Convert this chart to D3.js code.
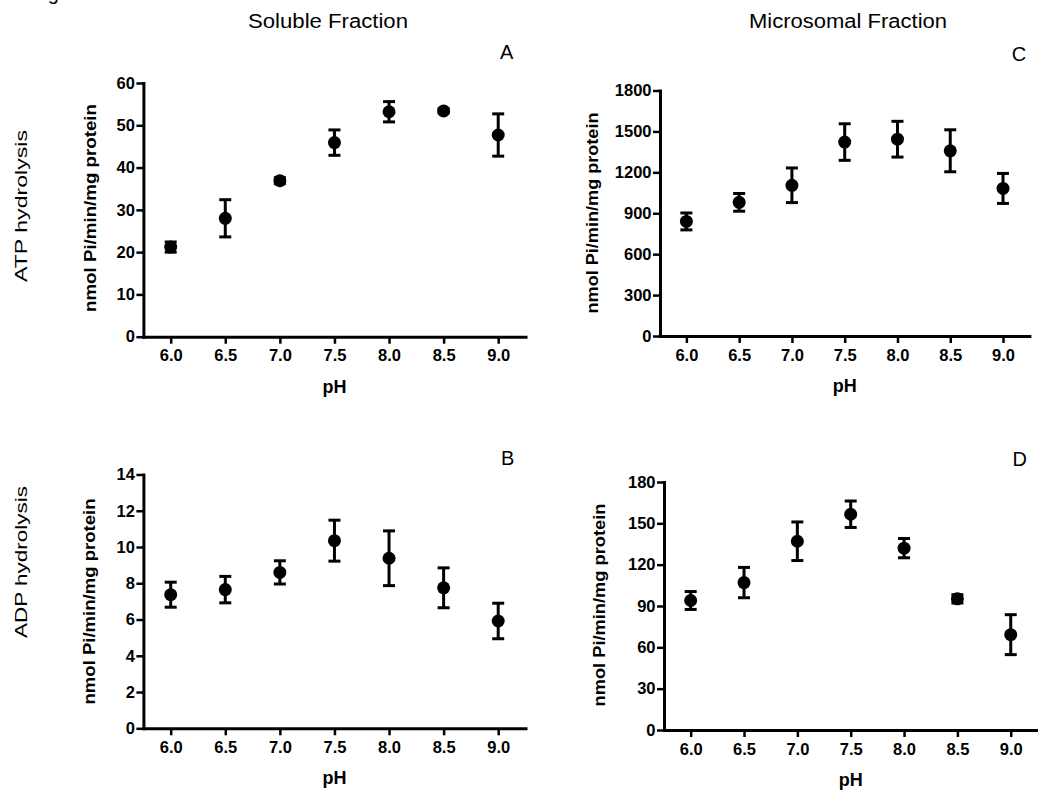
<!DOCTYPE html>
<html>
<head>
<meta charset="utf-8">
<script src="https://cdn.jsdelivr.net/npm/d3@7"></script>
<style>
  body { margin: 0; background: #fff; }
  svg { display: block; font-family: Arial, "Liberation Sans", sans-serif; }
</style>
</head>
<body>
<script>
// pH values shared by all four panels
var phValues = [6.0, 6.5, 7.0, 7.5, 8.0, 8.5, 9.0];

// A: soluble fraction, ATP hydrolysis
var solubleAtp = [21.2, 28.0, 36.9, 45.9, 53.2, 53.4, 47.7];
var solubleAtpErr = [1.2, 4.4, 0.7, 3.0, 2.4, 0.5, 5.0];
// B: soluble fraction, ADP hydrolysis
var solubleAdp = [7.37, 7.65, 8.6, 10.35, 9.38, 7.75, 5.92];
var solubleAdpErr = [0.69, 0.73, 0.64, 1.13, 1.51, 1.1, 0.98];
// C: microsomal fraction, ATP hydrolysis
var microsomalAtp = [840, 980, 1105, 1422, 1443, 1358, 1082];
var microsomalAtpErr = [62, 65, 127, 134, 131, 154, 110];
// D: microsomal fraction, ADP hydrolysis
var microsomalAdp = [94, 107, 137, 156.6, 132, 95.2, 69.2];
var microsomalAdpErr = [6.5, 11, 14, 9.6, 7, 3, 14.5];

var yTicksA = [0, 10, 20, 30, 40, 50, 60];
var yTicksB = [0, 2, 4, 6, 8, 10, 12, 14];
var yTicksC = [0, 300, 600, 900, 1200, 1500, 1800];
var yTicksD = [0, 30, 60, 90, 120, 150, 180];

var yLabel = "nmol Pi/min/mg protein";
var xLabel = "pH";

var width = 1038, height = 798;
var svg = d3.select("body").append("svg")
    .attr("width", width)
    .attr("height", height);

// cut-off figure caption at the very top (only the descender shows, as in the original)
svg.append("text")
    .attr("x", 31).attr("y", 0)
    .style("font-size", "20px")
    .text("Fig");

// column titles
svg.append("text")
    .attr("x", 248).attr("y", 27.5)
    .attr("textLength", 160).attr("lengthAdjust", "spacingAndGlyphs")
    .style("font-size", "20px")
    .text("Soluble Fraction");
svg.append("text")
    .attr("x", 749).attr("y", 27.5)
    .attr("textLength", 198).attr("lengthAdjust", "spacingAndGlyphs")
    .style("font-size", "20px")
    .text("Microsomal Fraction");

// row titles
[["ATP hydrolysis", 206], ["ADP hydrolysis", 562]].forEach(function(r) {
    svg.append("text")
        .attr("transform", "translate(27," + r[1] + ") rotate(-90)")
        .attr("text-anchor", "middle")
        .attr("textLength", 152).attr("lengthAdjust", "spacingAndGlyphs")
        .style("font-size", "17px")
        .text(r[0]);
});

var panels = [
    {letter: "A", values: solubleAtp, errs: solubleAtpErr, ticks: yTicksA,
     left: 143.4, right: 525.5, top: 83, bottom: 336.7,
     labelX: 96, labelY: 208, labelLen: 208, letterX: 506.7, letterY: 59.3},
    {letter: "B", values: solubleAdp, errs: solubleAdpErr, ticks: yTicksB,
     left: 143.4, right: 525.5, top: 474.5, bottom: 728.3,
     labelX: 95, labelY: 601.5, labelLen: 206, letterX: 507.7, letterY: 465},
    {letter: "C", values: microsomalAtp, errs: microsomalAtpErr, ticks: yTicksC,
     left: 660, right: 1029.4, top: 90.5, bottom: 336,
     labelX: 597.5, labelY: 213, labelLen: 201, letterX: 1019, letterY: 61},
    {letter: "D", values: microsomalAdp, errs: microsomalAdpErr, ticks: yTicksD,
     left: 664, right: 1037.4, top: 482, bottom: 730,
     labelX: 605, labelY: 605, labelLen: 203, letterX: 1019.7, letterY: 466}
];

panels.forEach(function(p) {
    var x = d3.scaleLinear().domain([5.75, 9.25]).range([p.left, p.right]);
    var y = d3.scaleLinear().domain([0, d3.max(p.ticks)]).range([p.bottom, p.top]);
    var g = svg.append("g");

    var yAxis = g.append("g")
        .attr("transform", "translate(" + p.left + ",0)")
        .call(d3.axisLeft(y).tickValues(p.ticks).tickSize(7).tickSizeOuter(0)
            .tickPadding(1.5).tickFormat(d3.format("d")));
    var xAxis = g.append("g")
        .attr("transform", "translate(0," + p.bottom + ")")
        .call(d3.axisBottom(x).tickValues(phValues).tickSize(7).tickSizeOuter(0)
            .tickPadding(6).tickFormat(d3.format(".1f")));

    [yAxis, xAxis].forEach(function(a) {
        a.select(".domain").attr("stroke", "#000").attr("stroke-width", 3)
            .attr("stroke-linecap", "square");
        a.selectAll(".tick line").attr("stroke", "#000").attr("stroke-width", 2.5);
        a.selectAll(".tick text")
            .attr("fill", "#000")
            .style("font-size", "16.5px")
            .style("font-weight", "bold")
            .style("font-family", "Arial, 'Liberation Sans', sans-serif");
    });

    // axis titles
    g.append("text")
        .attr("transform", "translate(" + p.labelX + "," + p.labelY + ") rotate(-90)")
        .attr("text-anchor", "middle")
        .attr("textLength", p.labelLen).attr("lengthAdjust", "spacingAndGlyphs")
        .style("font-size", "17px").style("font-weight", "bold")
        .text(yLabel);
    g.append("text")
        .attr("x", x(7.5)).attr("y", p.bottom + 56)
        .attr("text-anchor", "middle")
        .style("font-size", "18px").style("font-weight", "bold")
        .text(xLabel);

    // panel letter
    g.append("text")
        .attr("x", p.letterX).attr("y", p.letterY)
        .attr("text-anchor", "middle")
        .style("font-size", "20px")
        .text(p.letter);

    var pts = phValues.map(function(ph, i) {
        return {ph: ph, v: p.values[i], e: p.errs[i]};
    });

    var bars = g.append("g").attr("stroke", "#000").attr("stroke-width", 3);
    bars.selectAll("line.stem").data(pts).join("line")
        .attr("class", "stem")
        .attr("x1", d => x(d.ph)).attr("x2", d => x(d.ph))
        .attr("y1", d => y(d.v - d.e)).attr("y2", d => y(d.v + d.e));
    bars.selectAll("line.capTop").data(pts).join("line")
        .attr("class", "capTop")
        .attr("x1", d => x(d.ph) - 6).attr("x2", d => x(d.ph) + 6)
        .attr("y1", d => y(d.v + d.e)).attr("y2", d => y(d.v + d.e));
    bars.selectAll("line.capBot").data(pts).join("line")
        .attr("class", "capBot")
        .attr("x1", d => x(d.ph) - 6).attr("x2", d => x(d.ph) + 6)
        .attr("y1", d => y(d.v - d.e)).attr("y2", d => y(d.v - d.e));

    g.append("g").selectAll("circle").data(pts).join("circle")
        .attr("cx", d => x(d.ph))
        .attr("cy", d => y(d.v))
        .attr("r", 6.5)
        .attr("fill", "#000");
});
</script>
</body>
</html>
